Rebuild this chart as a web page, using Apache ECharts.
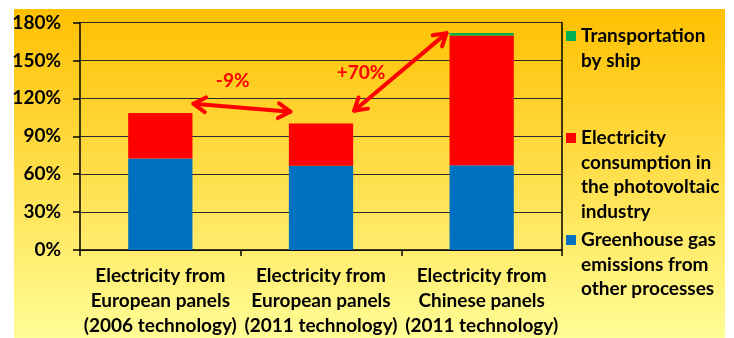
<!DOCTYPE html>
<html>
<head>
<meta charset="utf-8">
<script src="https://cdn.jsdelivr.net/npm/echarts@6/dist/echarts.min.js"></script>
<style>html,body{margin:0;padding:0;background:#fff;}#c{width:734px;height:338px;}</style>
</head>
<body>
<div id="c"></div>
<script>
// ---- data ----
const categories = [
  'Electricity from\nEuropean panels\n(2006 technology)',
  'Electricity from\nEuropean panels\n(2011 technology)',
  'Electricity from\nChinese panels\n(2011 technology)'
];
const seriesNames = [
  'Greenhouse gas emissions from other processes',
  'Electricity consumption in the photovoltaic industry',
  'Transportation by ship'
];
const legendLabels = [
  'Greenhouse gas\nemissions from\nother processes',
  'Electricity\nconsumption in\nthe photovoltaic\nindustry',
  'Transportation\nby ship'
];
const otherProcesses = [72.3, 66.7, 67.0];
const pvElectricity = [36.0, 33.3, 102.7];
const shipTransport = [0, 0, 2.0];
const yTicks = { min: 0, max: 180, interval: 30 };
// annotations: [fromCategoryIndex, fromValue, toCategoryIndex, toValue], label, labelValue
const changeLabels = ['-9%', '+70%'];
const arrowEnds = [[0, 115.7, 1, 109.4], [1, 110.2, 2, 171.6]];
const labelValues = [134.1, 140.4];

const colors = ['#0070C0', '#FF0000', '#00B050'];
const FONT = 'Lato';
const FS = 19;
const LH = 24.5;

const chart = echarts.init(document.getElementById('c'));

function legendFor(i, iconTop) {
  const n = legendLabels[i].split('\n').length;
  return {
    data: [seriesNames[i]],
    left: 566,
    top: iconTop - ((2 * n - 1) * LH / 2 - 5),
    padding: 0,
    orient: 'vertical',
    selectedMode: false,
    itemWidth: 10,
    itemHeight: 10,
    itemGap: 5,
    icon: 'rect',
    formatter: () => '\n'.repeat(n - 1) + legendLabels[i],
    textStyle: {
      fontFamily: FONT, fontWeight: 'bold', fontSize: FS, color: '#000',
      lineHeight: LH
    }
  };
}

const option = {
  animation: false,
  backgroundColor: '#ffffff',
  grid: { left: 80, right: 172, top: 22.5, bottom: 85.7, containLabel: false },
  legend: [legendFor(2, 31), legendFor(1, 133), legendFor(0, 235)],
  xAxis: {
    type: 'category',
    data: categories,
    axisLine: { show: true, lineStyle: { color: '#000', width: 1.5 } },
    axisTick: { show: true, interval: 0, length: 6, lineStyle: { color: '#000', width: 1.5 } },
    axisLabel: {
      interval: 0, margin: 13, fontFamily: FONT, fontWeight: 'bold', fontSize: FS,
      color: '#000', lineHeight: 25
    }
  },
  yAxis: [{
    type: 'value',
    min: yTicks.min, max: yTicks.max, interval: yTicks.interval,
    axisLine: { show: true, lineStyle: { color: '#000', width: 1.5 } },
    axisTick: { show: true, length: 7, lineStyle: { color: '#000', width: 1.5 } },
    axisLabel: {
      formatter: '{value}%', margin: 19, fontFamily: FONT, fontWeight: 'bold',
      fontSize: FS, color: '#000'
    },
    splitLine: { show: true, lineStyle: { color: '#2a2a2a', width: 1 } }
  }, {
    type: 'value', position: 'right',
    min: yTicks.min, max: yTicks.max, interval: yTicks.interval,
    axisLine: { show: true, lineStyle: { color: '#000', width: 1.5 } },
    axisTick: { show: false }, axisLabel: { show: false }, splitLine: { show: false }
  }],
  series: [
    { name: seriesNames[0], type: 'bar', stack: 't', data: otherProcesses, barWidth: '40%', itemStyle: { color: colors[0] } },
    { name: seriesNames[1], type: 'bar', stack: 't', data: pvElectricity, barWidth: '40%', itemStyle: { color: colors[1] } },
    { name: seriesNames[2], type: 'bar', stack: 't', data: shipTransport, barWidth: '40%', itemStyle: { color: colors[2] } }
  ]
};
chart.setOption(option);

// background gradient and arrows computed from axis positions
function px(cat, val) { return chart.convertToPixel({ gridIndex: 0 }, [cat, val]); }
const band = px(1, 0)[0] - px(0, 0)[0];
const halfBar = band * 0.2;

function arrow(x1, y1, x2, y2) {
  const els = [];
  const style = { stroke: '#FF0000', lineWidth: 4, lineCap: 'round', lineJoin: 'round', fill: null };
  els.push({ type: 'polyline', shape: { points: [[x1, y1], [x2, y2]] }, style, z: 50 });
  const ang = Math.atan2(y2 - y1, x2 - x1);
  const L = 14, a = 0.55;
  function head(x, y, dir) {
    const p1 = [x - L * Math.cos(dir - a), y - L * Math.sin(dir - a)];
    const p2 = [x - L * Math.cos(dir + a), y - L * Math.sin(dir + a)];
    return { type: 'polyline', shape: { points: [p1, [x, y], p2] }, style, z: 50 };
  }
  els.push(head(x2, y2, ang));
  els.push(head(x1, y1, ang + Math.PI));
  return els;
}

const graphics = [{
  type: 'rect', z: -100, silent: true,
  shape: { x: 14, y: 9, width: 711, height: 329 },
  style: { fill: new echarts.graphic.LinearGradient(0, 0, 0, 1, [
    { offset: 0, color: '#FFC000' }, { offset: 1, color: '#FFFD96' }]) }
}];
arrowEnds.forEach((e, i) => {
  const a = px(e[0], e[1]), b = px(e[2], e[3]);
  const x1 = a[0] + halfBar + 1, x2 = b[0] - halfBar + (i === 0 ? 1.5 : -3);
  graphics.push(...arrow(x1, a[1], x2, b[1]));
});
const l1 = px(0, labelValues[0]);
const l2 = px(1, labelValues[1]);
graphics.push({ type: 'text', z: 50, style: { text: changeLabels[0], x: l1[0] + band / 2 - 8, y: l1[1], align: 'center', verticalAlign: 'middle', fill: '#FF0000', font: 'bold ' + FS + 'px ' + FONT } });
graphics.push({ type: 'text', z: 50, style: { text: changeLabels[1], x: l2[0] + 40, y: l2[1], align: 'center', verticalAlign: 'middle', fill: '#FF0000', font: 'bold ' + FS + 'px ' + FONT } });
chart.setOption({ graphic: graphics });
</script>
</body>
</html>
